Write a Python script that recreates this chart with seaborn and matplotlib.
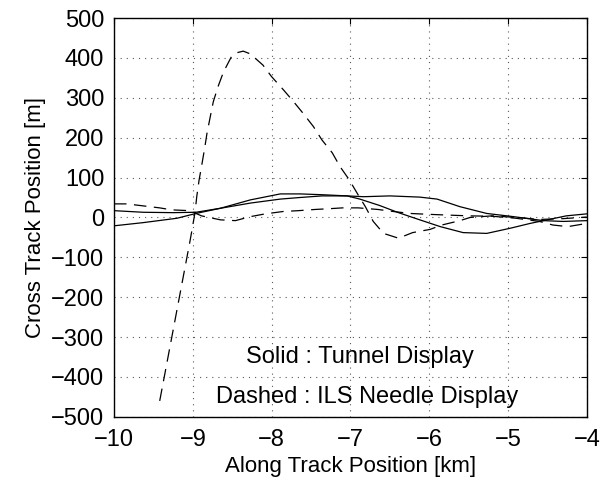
import numpy as np
import pandas as pd
import matplotlib
matplotlib.use("Agg")
import matplotlib.pyplot as plt
import seaborn as sns

# Tunnel display runs (solid)
tunnel1_x = [-10.0, -9.63, -9.25, -8.96, -8.65, -8.27, -7.89, -7.64, -7.36, -7.04, -6.88, -6.63, -6.39, -6.12, -5.86, -5.57, -5.27, -4.97, -4.72, -4.55, -4.26, -4.0]
tunnel1_y = [17, 13, 12, 13, 23, 44, 59, 59, 57, 54, 46, 30, 12, -6, -23, -38, -40, -27, -15, -8, 4, 9]
tunnel2_x = [-10.0, -9.63, -9.2, -8.96, -8.65, -8.27, -7.89, -7.64, -7.36, -7.04, -6.83, -6.5, -6.12, -5.90, -5.61, -5.27, -4.93, -4.55, -4.3, -4.0]
tunnel2_y = [-21, -13, -2, 10, 23, 36, 46, 50, 54, 54, 52, 54, 51, 46, 27, 10, 2, -8, -10, -8]

# ILS needle display runs (dashed)
ils1_x = [-9.42, -9.04, -9.01, -8.97, -8.95, -8.92, -8.89, -8.85, -8.82, -8.78, -8.74, -8.68, -8.61, -8.51, -8.44, -8.36, -8.27, -8.11, -8.0, -7.85, -7.72, -7.60, -7.47, -7.36, -7.23, -7.13, -7.02, -6.90, -6.81, -6.71, -6.58, -6.39, -6.21, -5.99, -5.84, -5.61, -5.48, -5.2, -4.9, -4.6, -4.3, -4.0]
ils1_y = [-460, -64, -31, 15, 52, 94, 127, 173, 211, 251, 290, 328, 365, 403, 413, 417, 410, 382, 353, 320, 290, 261, 228, 194, 162, 127, 96, 56, 27, -10, -40, -52, -38, -30, -19, -8, 0, 4, 0, -5, -3, 1]
ils2_x = [-10.0, -9.84, -9.63, -9.42, -9.27, -9.04, -8.89, -8.65, -8.46, -8.27, -8.08, -7.85, -7.66, -7.45, -7.26, -7.1, -6.9, -6.65, -6.46, -6.24, -6.03, -5.77, -5.5, -5.2, -4.9, -4.6, -4.43, -4.24, -4.0]
ils2_y = [34, 34, 29, 24, 19, 17, 4, -6, -8, 2, 9, 15, 17, 20, 22, 24, 24, 20, 15, 10, 8, 6, 4, 3, -2, -10, -19, -23, -15]

x_ticks = [-10, -9, -8, -7, -6, -5, -4]
y_ticks = [-500, -400, -300, -200, -100, 0, 100, 200, 300, 400, 500]

frames = []
for name, xs, ys, kind in [("t1", tunnel1_x, tunnel1_y, "Tunnel"),
                           ("t2", tunnel2_x, tunnel2_y, "Tunnel"),
                           ("i1", ils1_x, ils1_y, "ILS"),
                           ("i2", ils2_x, ils2_y, "ILS")]:
    frames.append(pd.DataFrame({"x": xs, "y": ys, "run": name, "kind": kind}))
df = pd.concat(frames, ignore_index=True)

sns.set_style("white")
plt.rcParams['font.family'] = ['Liberation Sans', 'DejaVu Sans']
plt.rcParams['text.color'] = 'black'
plt.rcParams['axes.labelcolor'] = 'black'
plt.rcParams['xtick.color'] = 'black'
plt.rcParams['ytick.color'] = 'black'

fig = plt.figure(figsize=(6.0, 4.87), dpi=100)
ax = fig.add_axes([0.19, 0.144, 0.788, 0.819])

for run, sub in df.groupby("run", sort=False):
    style = (0, (10, 6)) if sub["kind"].iloc[0] == "ILS" else "-"
    sns.lineplot(data=sub, x="x", y="y", sort=False, ax=ax, color="black",
                 linewidth=0.9, linestyle=style, legend=False, estimator=None)

ax.set_xlim(-10, -4)
ax.set_ylim(-500, 500)
ax.set_xticks(x_ticks)
ax.set_yticks(y_ticks)
ax.set_xticklabels([f"\u2212{abs(v)}" for v in x_ticks])
ax.set_yticklabels([f"\u2212{abs(v)}" if v < 0 else str(v) for v in y_ticks])
ax.tick_params(direction="in", top=True, right=True, labelsize=17, length=4,
               color="black", labelcolor="black")
ax.tick_params(axis="y", pad=7)
ax.tick_params(axis="x", pad=9)
ax.grid(True, linestyle=(0, (1, 4.5)), color="0.35", linewidth=0.8)
for s in ax.spines.values():
    s.set_color("black")
    s.set_linewidth(1.0)
ax.set_xlabel("Along Track Position [km]", fontsize=16, labelpad=3, color="black")
ax.set_ylabel("Cross Track Position [m]", fontsize=16, labelpad=4, color="black")

ax.text(-6.88, -350, "Solid : Tunnel Display", ha="center", va="center", fontsize=17, color="black")
ax.text(-6.79, -450, "Dashed : ILS Needle Display", ha="center", va="center", fontsize=17, color="black")

fig.savefig("out.png", dpi=100)
